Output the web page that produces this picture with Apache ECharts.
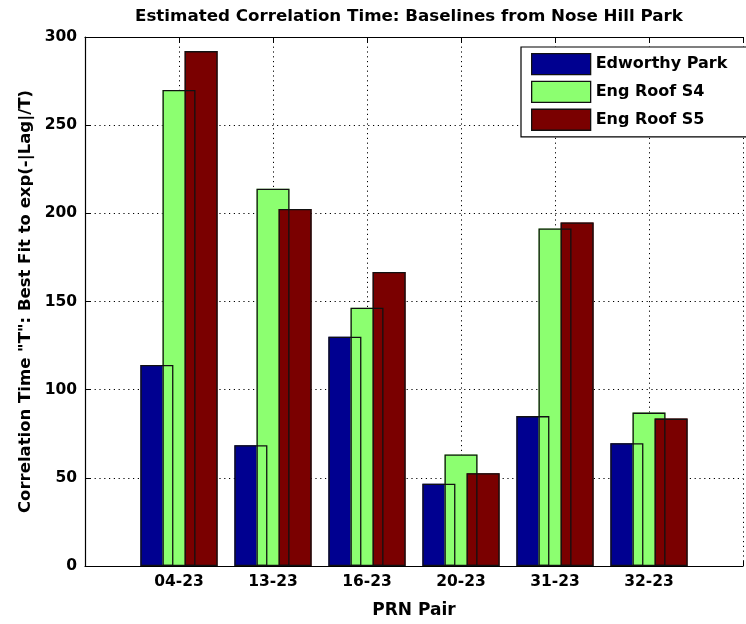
<!DOCTYPE html>
<html>
<head>
<meta charset="utf-8">
<script src="https://cdn.jsdelivr.net/npm/echarts@6/dist/echarts.min.js"></script>
<style>html,body{margin:0;padding:0;background:#fff;}#c{width:746px;height:624px;}</style>
</head>
<body>
<div id="c"></div>
<script>
const categories = ['04-23', '13-23', '16-23', '20-23', '31-23', '32-23'];
const seriesNames = ['Edworthy Park', 'Eng Roof S4', 'Eng Roof S5'];
const edworthy = [114, 68.5, 130, 46.7, 85, 69.6];
const engRoofS4 = [270, 214, 146.5, 63.3, 191.4, 87];
const engRoofS5 = [292, 202.5, 166.8, 52.6, 194.8, 83.6];
const yTicks = [0, 50, 100, 150, 200, 250, 300];

const seriesValues = [edworthy, engRoofS4, engRoofS5];
const colors = ['#000090', '#8CFF70', '#7A0000'];
const FONT = 'DejaVu Sans';
const axisCats = [''].concat(categories, ['']);
const pad = v => [null].concat(v, [null]);

const chart = echarts.init(document.getElementById('c'), null, {renderer: 'canvas'});
const fillSeries = seriesNames.map((n, i) => ({
  name: n, type: 'bar', xAxisIndex: 0, yAxisIndex: 0,
  data: pad(seriesValues[i]), barWidth: 33, barGap: '-33%',
  itemStyle: {color: colors[i], borderWidth: 0}, silent: true, z: 2
}));
const edgeSeries = seriesNames.map((n, i) => ({
  name: n + ' edge', type: 'bar', xAxisIndex: 1, yAxisIndex: 0,
  data: pad(seriesValues[i]), barWidth: 33, barGap: '-33%',
  itemStyle: {color: 'rgba(0,0,0,0)', borderColor: '#111', borderWidth: 1.3}, silent: true, z: 3
}));

chart.setOption({
  animation: false,
  backgroundColor: '#fff',
  title: {
    text: 'Estimated Correlation Time: Baselines from Nose Hill Park',
    left: 130, top: 3,
    textStyle: {fontFamily: FONT, fontWeight: 'bold', fontSize: 16.7, color: '#000'}
  },
  legend: {
    data: seriesNames.map(n => ({name: n, itemStyle: {borderColor: '#111', borderWidth: 1.3}})),
    orient: 'vertical', left: 521, top: 47,
    padding: [6, 40, 6, 10],
    itemWidth: 59, itemHeight: 21, itemGap: 5.5,
    icon: 'rect',
    backgroundColor: '#fff', borderColor: '#000', borderWidth: 1.2, borderRadius: 0,
    textStyle: {fontFamily: FONT, fontWeight: 'bold', fontSize: 16, lineHeight: 21, color: '#000', padding: [0, 0, 0, 0]},
    z: 10
  },
  grid: {left: 85, top: 37, right: -11, bottom: 58, containLabel: false},
  xAxis: [{
    type: 'category', data: axisCats, boundaryGap: false, position: 'bottom',
    name: 'PRN Pair', nameLocation: 'middle', nameGap: 36,
    nameTextStyle: {fontFamily: FONT, fontWeight: 'bold', fontSize: 17, color: '#000'},
    axisLine: {show: true, lineStyle: {color: '#000', width: 1.2}},
    axisTick: {show: true, inside: true, length: 5, lineStyle: {color: '#000'}},
    axisLabel: {fontFamily: FONT, fontWeight: 'bold', fontSize: 15.5, color: '#000', margin: 8, interval: 0},
    splitLine: {show: true, interval: 0, lineStyle: {color: '#000', type: [1.2, 3.6], width: 1}}
  }, {
    type: 'category', data: axisCats, boundaryGap: false, position: 'top',
    axisLine: {show: true, onZero: false, lineStyle: {color: '#000', width: 1.2}},
    axisTick: {show: true, inside: true, length: 5, lineStyle: {color: '#000'}},
    axisLabel: {show: false}, splitLine: {show: false}
  }],
  yAxis: {
    type: 'value', min: yTicks[0], max: yTicks[yTicks.length - 1], interval: 50,
    name: 'Correlation Time "T": Best Fit to exp(-|Lag|/T)',
    nameLocation: 'middle', nameGap: 51,
    nameTextStyle: {fontFamily: FONT, fontWeight: 'bold', fontSize: 16.5, color: '#000'},
    axisLine: {show: true, lineStyle: {color: '#000', width: 1.2}},
    axisTick: {show: true, inside: true, length: 5, lineStyle: {color: '#000'}},
    axisLabel: {fontFamily: FONT, fontWeight: 'bold', fontSize: 15.5, color: '#000', margin: 8},
    splitLine: {show: true, lineStyle: {color: '#000', type: [1.2, 3.6], width: 1}}
  },
  series: fillSeries.concat(edgeSeries)
});
</script>
</body>
</html>
